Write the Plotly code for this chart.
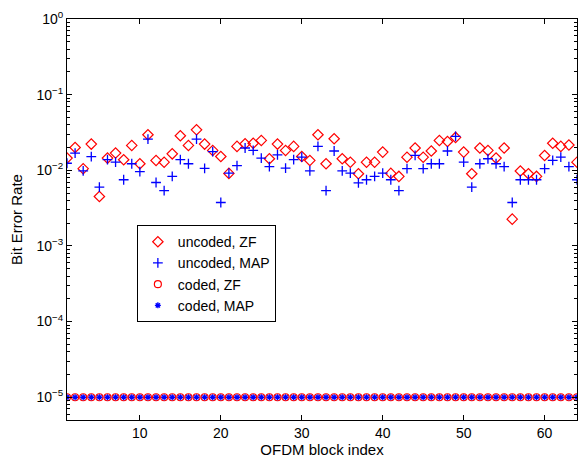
import plotly.graph_objects as go

blocks = list(range(1, 65))

uncoded_zf = [0.0145, 0.020, 0.0105, 0.0222, 0.0045, 0.0145, 0.0169, 0.0138, 0.0213, 0.0122,
              0.0295, 0.0135, 0.0128, 0.0165, 0.0286, 0.0213, 0.0343, 0.0222, 0.0183, 0.0152,
              0.0091, 0.0207, 0.0224, 0.0228, 0.0248, 0.0142, 0.0222, 0.0183, 0.0207, 0.0152,
              0.0135, 0.0295, 0.0122, 0.0261, 0.0142, 0.0128, 0.0090, 0.0128, 0.0128, 0.0174,
              0.0091, 0.0083, 0.0149, 0.0197, 0.0149, 0.0180, 0.0248, 0.0240, 0.0272, 0.0174,
              0.0090, 0.0197, 0.0183, 0.0145, 0.0197, 0.00226, 0.0098, 0.0090, 0.0083, 0.0157,
              0.0228, 0.0207, 0.0216, 0.0128]

uncoded_map = [0.0124, 0.0169, 0.0098, 0.0152, 0.0060, 0.0138, 0.0128, 0.0075, 0.0122, 0.0096,
               0.0259, 0.0069, 0.0054, 0.0083, 0.0138, 0.0122, 0.0259, 0.0106, 0.0177, 0.00375,
               0.0092, 0.0115, 0.0197, 0.0183, 0.0145, 0.0112, 0.0160, 0.0107, 0.0138, 0.0149,
               0.0098, 0.0207, 0.0054, 0.0180, 0.0098, 0.0092, 0.0068, 0.0075, 0.0083, 0.0092,
               0.0075, 0.0054, 0.0105, 0.0157, 0.0105, 0.0122, 0.0122, 0.0180, 0.0280, 0.0128,
               0.0060, 0.0122, 0.0142, 0.0122, 0.0112, 0.00375, 0.0075, 0.0075, 0.0075, 0.0105,
               0.0135, 0.0149, 0.0112, 0.0075]

coded_zf = [1e-5] * 64
coded_map = [1e-5] * 64

y_major = [1e-5, 1e-4, 1e-3, 1e-2, 1e-1, 1]
y_major_text = ["10<sup>\u22125</sup>", "10<sup>\u22124</sup>", "10<sup>\u22123</sup>",
                "10<sup>\u22122</sup>", "10<sup>\u22121</sup>", "10<sup>0</sup>"]
x_ticks = [10, 20, 30, 40, 50, 60]

y_minor = [m * 10.0 ** e for e in range(-6, 0) for m in range(2, 10)]
y_minor = [v for v in y_minor if 5e-6 <= v <= 1]

fig = go.Figure()
fig.add_trace(go.Scatter(x=blocks, y=uncoded_zf, mode="markers", name="uncoded, ZF",
                         marker=dict(symbol="diamond-open", size=8, color="red",
                                     line=dict(width=1.2, color="red"))))
fig.add_trace(go.Scatter(x=blocks, y=uncoded_map, mode="markers", name="uncoded, MAP",
                         marker=dict(symbol="cross-thin-open", size=7, color="blue",
                                     line=dict(width=1.3, color="blue"))))
fig.add_trace(go.Scatter(x=blocks, y=coded_zf, mode="markers", name="coded, ZF",
                         marker=dict(symbol="circle-open", size=7, color="red",
                                     line=dict(width=1.2, color="red"))))
fig.add_trace(go.Scatter(x=blocks, y=coded_map, mode="markers", name="coded, MAP",
                         marker=dict(symbol="asterisk-open", size=5, color="blue",
                                     line=dict(width=1.3, color="blue"))))

fig.update_layout(
    width=585, height=460,
    margin=dict(l=67, r=8, t=19, b=40),
    paper_bgcolor="white", plot_bgcolor="white",
    font=dict(family="Liberation Sans, Arial, sans-serif", size=14, color="black"),
    showlegend=True,
    legend=dict(x=0.137, y=0.365, xanchor="left", yanchor="middle",
                bgcolor="white", bordercolor="black", borderwidth=1,
                font=dict(size=14), tracegroupgap=0, itemwidth=30),
)
fig.update_xaxes(
    range=[1, 64], tickmode="array", tickvals=x_ticks,
    ticks="inside", ticklen=5, tickcolor="black",
    showline=True, linecolor="black", linewidth=1, mirror="ticks",
    showgrid=False, zeroline=False,
    title=dict(text="OFDM block index", standoff=2, font=dict(size=15)),
)
fig.update_yaxes(
    type="log", range=[-5.301, 0], tickmode="array", tickvals=y_major, ticktext=y_major_text,
    ticks="inside", ticklen=5, tickcolor="black",
    minor=dict(tickmode="array", tickvals=y_minor, ticks="inside", ticklen=3, tickcolor="black"),
    showline=True, linecolor="black", linewidth=1, mirror="ticks",
    showgrid=False, zeroline=False,
    title=dict(text="Bit Error Rate", standoff=10, font=dict(size=15)),
)

fig.write_html("out.html")
